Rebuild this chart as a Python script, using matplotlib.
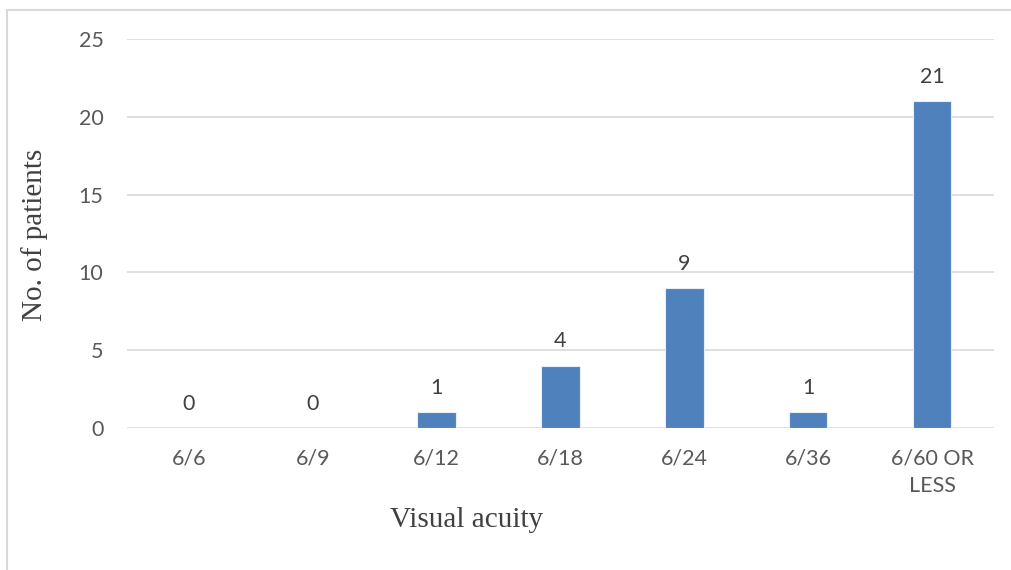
import matplotlib.pyplot as plt
from matplotlib.patches import Rectangle

# Visual acuity counts
acuity = ['6/6', '6/9', '6/12', '6/18', '6/24', '6/36', '6/60 OR\nLESS']
patients = [0, 0, 1, 4, 9, 1, 21]

bar_color = '#4F81BD'
text_color = '#595959'
tick_font = 'Lato'

fig = plt.figure(figsize=(10.12, 5.70), dpi=100)
ax = fig.add_axes([127/1012, 1 - 428/570, (994 - 127)/1012, (428 - 39)/570])

x = range(len(acuity))
ax.bar(x, patients, width=0.31, color=bar_color, edgecolor='#E8EEF6', linewidth=0.8, zorder=3)

for xi, v in zip(x, patients):
    ax.annotate(str(v), (xi, v), xytext=(0, 17.5), textcoords='offset points',
                ha='center', va='center', fontsize=15.5, color='#404040', family=tick_font)

ax.set_xlim(-0.5, len(acuity) - 0.5)
ax.set_ylim(0, 25)
ax.set_yticks([0, 5, 10, 15, 20, 25])
ax.set_xticks(list(x))
ax.set_xticklabels(acuity, family=tick_font, fontsize=15.5, color=text_color, linespacing=1.45)
for lab in ax.get_yticklabels():
    lab.set_family(tick_font)
    lab.set_fontsize(15.5)
    lab.set_color(text_color)
ax.tick_params(axis='both', length=0)
ax.tick_params(axis='y', pad=17)
ax.tick_params(axis='x', pad=15)
ax.grid(axis='y', color='#D9D9D9', linewidth=1.2, zorder=0)
for s in ax.spines.values():
    s.set_visible(False)

fig.text(35/1012, 1 - 235/570, 'No. of patients', rotation=90, ha='center', va='center',
         family='Liberation Serif', fontsize=21, color='#404040')
fig.text(467/1012, 1 - 520/570, 'Visual acuity', ha='center', va='center',
         family='Liberation Serif', fontsize=21, color='#404040')

# outer chart frame
fig.patches.append(Rectangle((7/1012, -0.1), 1.1, 1.1 - 10/570, transform=fig.transFigure,
                             fill=False, edgecolor='#D9D9D9', linewidth=1.5))

fig.savefig('out.png', dpi=100)
